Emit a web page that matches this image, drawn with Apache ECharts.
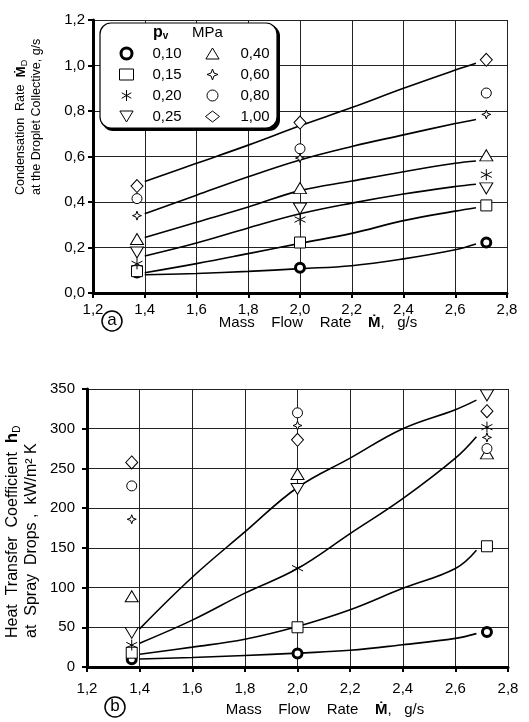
<!DOCTYPE html>
<html><head><meta charset="utf-8">
<script src="https://cdn.jsdelivr.net/npm/echarts@6/dist/echarts.min.js"></script>
<style>html,body{margin:0;padding:0;background:#fff}#c{width:529px;height:722px}</style>
</head><body><div id="c"></div>
<script>
// ---- data ----
const pressureNames = ['0,10','0,15','0,20','0,25','0,40','0,60','0,80','1,00'];
const flowPts = [1.37, 2.0, 2.72];
// (a) condensation rate, g/s
const rate010 = [0.090, 0.111, 0.222];
const rate015 = [0.096, 0.222, 0.385];
const rate020 = [0.128, 0.323, 0.520];
const rate025 = [0.178, 0.371, 0.460];
const rate040 = [0.237, 0.461, 0.605];
const rate060 = [0.340, 0.593, 0.785];
const rate080 = [0.415, 0.634, 0.879];
const rate100 = [0.470, 0.749, 1.025];
// (b) heat transfer coefficient, kW/m2K
const h010 = [9.7, 17, 44];
const h015 = [18, 50, 152];
const h020 = [27.6, 124.4, 302];
const h025 = [43, 224, 342];
const h040 = [89, 243, 269];
const h060 = [186, 304, 289];
const h080 = [228, 320, 275];
const h100 = [257.6, 286, 322];
// fitted curves drawn in the figure
const fitX = [1.4, 1.6, 1.8, 2.0, 2.2, 2.4, 2.6, 2.68];
const fitRate010 = [0.080, 0.086, 0.095, 0.107, 0.120, 0.150, 0.190, 0.215];
const fitRate015 = [0.089, 0.129, 0.173, 0.218, 0.262, 0.318, 0.360, 0.375];
const fitRate025 = [0.163, 0.220, 0.286, 0.348, 0.395, 0.435, 0.468, 0.478];
const fitRate040 = [0.244, 0.311, 0.378, 0.450, 0.492, 0.533, 0.570, 0.580];
const fitRate060 = [0.348, 0.430, 0.511, 0.585, 0.644, 0.695, 0.745, 0.763];
const fitRate100 = [0.490, 0.570, 0.650, 0.735, 0.815, 0.900, 0.980, 1.010];
const fitH010 = [10, 12, 14.5, 17.5, 21, 28, 36, 42];
const fitH015 = [16, 25, 35, 51, 72, 99, 124, 147];
const fitH020 = [30, 59, 93, 124, 168, 212, 263, 290];
const fitH025 = [48, 113, 170, 226, 263, 300, 324, 336];
const xTicks = ['1,2','1,4','1,6','1,8','2,0','2,2','2,4','2,6','2,8'];

// ---- styling ----
const FONT = '"Liberation Sans", Arial, sans-serif';
const symbols = {
  '0,10': {symbol: 'circle', size: 9, bw: 3},
  '0,15': {symbol: 'rect', size: 11, bw: 1},
  '0,20': {symbol: 'path://M0,-6L0,6M-5.2,-3L5.2,3M-5.2,3L5.2,-3', size: 11, bw: 1},
  '0,25': {symbol: 'path://M-6,-4.5L6,-4.5L0,5.5Z', size: [13, 11], bw: 1},
  '0,40': {symbol: 'path://M-6,4.5L6,4.5L0,-5.5Z', size: [13, 11], bw: 1},
  '0,60': {symbol: 'path://M0,-6L1.6,-1.6L6,0L1.6,1.6L0,6L-1.6,1.6L-6,0L-1.6,-1.6Z', size: 9, bw: 1},
  '0,80': {symbol: 'circle', size: 10, bw: 1},
  '1,00': {symbol: 'diamond', size: [12, 13], bw: 1}
};
const legendIconBorder = {'0,10': 3, '0,15': 1, '0,20': 1, '0,25': 1, '0,40': 1, '0,60': 1, '0,80': 1, '1,00': 1};
const rateSets = [rate010, rate015, rate020, rate025, rate040, rate060, rate080, rate100];
const hSets = [h010, h015, h020, h025, h040, h060, h080, h100];
const zip = (xs, ys) => xs.map((x, i) => [x, ys[i]]);

function scatterSeries(sets, axisIdx) {
  return pressureNames.map((n, i) => ({
    type: 'scatter', name: n, xAxisIndex: axisIdx, yAxisIndex: axisIdx,
    data: zip(flowPts, sets[i]), symbol: symbols[n].symbol, symbolSize: symbols[n].size,
    itemStyle: {color: '#fff', borderColor: '#000', borderWidth: symbols[n].bw, opacity: 1},
    z: 5, silent: true
  }));
}
function lineSeries(ys, axisIdx) {
  return {type: 'line', xAxisIndex: axisIdx, yAxisIndex: axisIdx, data: zip(fitX, ys), smooth: 0.4,
    showSymbol: false, lineStyle: {color: '#000', width: 1.6}, z: 3, silent: true};
}
function legendData(names) {
  return names.map(n => ({name: n, icon: symbols[n].symbol,
    itemStyle: {color: '#fff', borderColor: '#000', borderWidth: legendIconBorder[n]}}));
}
const fmt = v => (Math.abs(v - Math.round(v * 10) / 10) < 1e-6 ? (Math.round(v * 10) / 10).toFixed(1).replace('.', ',') : '');
const splitLine = {show: true, lineStyle: {color: '#222', width: 1}};
const axisNameText = 'Mass    Flow    Rate    {m|Ṁ},   g/s';

const chart = echarts.init(document.getElementById('c'), null, {renderer: 'canvas'});
chart.setOption({
  animation: false,
  textStyle: {fontFamily: FONT},
  grid: [
    {left: 93, right: 22, top: 20, height: 273},
    {left: 87, right: 21, top: 389, height: 278}
  ],
  xAxis: [0, 1].map(i => ({
    type: 'value', gridIndex: i, min: 1.2, max: 2.8, interval: 0.2,
    axisLine: {show: true, onZero: false, lineStyle: {color: '#000', width: 3}},
    axisTick: {show: true, inside: false, length: 5, lineStyle: {color: '#000', width: 2}},
    axisLabel: {color: '#000', fontSize: 15, fontFamily: FONT, margin: i === 0 ? 9 : 14,
      formatter: v => xTicks[Math.round((v - 1.2) / 0.2)] || ''},
    splitLine: splitLine
  })),
  yAxis: [
    {type: 'value', gridIndex: 0, min: 0, max: 1.2, interval: 0.2,
      axisLine: {show: true, lineStyle: {color: '#000', width: 3}},
      axisTick: {show: true, length: 5, lineStyle: {color: '#000', width: 2}},
      axisLabel: {color: '#000', fontSize: 15, fontFamily: FONT, margin: 8, formatter: fmt},
      splitLine: splitLine},
    {type: 'value', gridIndex: 1, min: 0, max: 350, interval: 50,
      axisLine: {show: true, lineStyle: {color: '#000', width: 3}},
      axisTick: {show: true, length: 5, lineStyle: {color: '#000', width: 2}},
      axisLabel: {color: '#000', fontSize: 15, fontFamily: FONT, margin: 12},
      splitLine: splitLine}
  ],
  legend: [
    {data: legendData(pressureNames.slice(0, 4)), orient: 'vertical', left: 114, top: 41, itemWidth: 14, itemHeight: 11,
      itemGap: 6, z: 20, selectedMode: false,
      textStyle: {color: '#000', fontSize: 15, fontFamily: FONT, padding: [0, 0, 0, 14]}},
    {data: legendData(pressureNames.slice(4)), orient: 'vertical', left: 200, top: 41, itemWidth: 14, itemHeight: 11,
      itemGap: 6, z: 20, selectedMode: false,
      textStyle: {color: '#000', fontSize: 15, fontFamily: FONT, padding: [0, 0, 0, 16]}}
  ],
  graphic: [
    // legend box with shadow
    {type: 'rect', shape: {x: 102, y: 25, width: 178, height: 106, r: 11}, style: {fill: '#000'}, z: 10},
    {type: 'rect', shape: {x: 100, y: 23, width: 177, height: 105, r: 11}, style: {fill: '#fff', stroke: '#000', lineWidth: 1.2}, z: 11},
    {type: 'text', x: 153, y: 33, z: 20, style: {text: '{p|p}{v|v}', verticalAlign: 'middle',
      rich: {p: {fontSize: 16, fontWeight: 'bold', fontFamily: FONT}, v: {fontSize: 10, fontWeight: 'bold', fontFamily: FONT, verticalAlign: 'bottom'}}}},
    {type: 'text', x: 192, y: 33, z: 20, style: {text: 'MPa', fontSize: 15, fontFamily: FONT, fill: '#000', verticalAlign: 'middle'}},
    // y axis names
    {type: 'text', x: 29, y: 195, rotation: Math.PI / 2, z: 20, style: {
      text: '{t|Condensation  Rate  }{m|Ṁ}{s|D}\n{t|at the Droplet Collective, g/s}', align: 'left', verticalAlign: 'middle',
      rich: {t: {fontSize: 12.5, fontFamily: FONT, lineHeight: 16}, m: {fontSize: 13.5, fontWeight: 'bold', fontFamily: FONT, lineHeight: 16},
        s: {fontSize: 9, fontFamily: FONT, verticalAlign: 'bottom', lineHeight: 16}}}},
    {type: 'text', x: 22, y: 638, rotation: Math.PI / 2, z: 20, style: {
      text: '{t|Heat  Transfer  Coefficient  }{m|h}{s|D}\n{t|at  Spray  Drops ,  kW/m² K}', align: 'left', verticalAlign: 'middle',
      rich: {t: {fontSize: 16, fontFamily: FONT, lineHeight: 19}, m: {fontSize: 17, fontWeight: 'bold', fontFamily: FONT, lineHeight: 19},
        s: {fontSize: 10, fontFamily: FONT, verticalAlign: 'bottom', lineHeight: 19}}}},
    // x axis names
    {type: 'text', x: 318, y: 323, z: 20, style: {text: axisNameText, align: 'center', verticalAlign: 'middle',
      fontSize: 15, fontFamily: FONT, fill: '#000', rich: {m: {fontSize: 15, fontWeight: 'bold', fontFamily: FONT}}}},
    {type: 'text', x: 325, y: 710, z: 20, style: {text: axisNameText, align: 'center', verticalAlign: 'middle',
      fontSize: 15, fontFamily: FONT, fill: '#000', rich: {m: {fontSize: 15, fontWeight: 'bold', fontFamily: FONT}}}},
    // panel labels
    {type: 'circle', shape: {cx: 112, cy: 321, r: 10}, style: {fill: '#fff', stroke: '#000', lineWidth: 1.5}, z: 20},
    {type: 'text', x: 112, y: 320, z: 21, style: {text: 'a', align: 'center', verticalAlign: 'middle', fontSize: 17, fontFamily: FONT, fill: '#000'}},
    {type: 'circle', shape: {cx: 115, cy: 707, r: 10}, style: {fill: '#fff', stroke: '#000', lineWidth: 1.5}, z: 20},
    {type: 'text', x: 115, y: 706, z: 21, style: {text: 'b', align: 'center', verticalAlign: 'middle', fontSize: 17, fontFamily: FONT, fill: '#000'}}
  ],
  series: [
    lineSeries(fitRate010, 0), lineSeries(fitRate015, 0), lineSeries(fitRate025, 0),
    lineSeries(fitRate040, 0), lineSeries(fitRate060, 0), lineSeries(fitRate100, 0),
    lineSeries(fitH010, 1), lineSeries(fitH015, 1), lineSeries(fitH020, 1), lineSeries(fitH025, 1),
    ...scatterSeries(rateSets, 0),
    ...scatterSeries(hSets, 1)
  ]
});
</script></body></html>
